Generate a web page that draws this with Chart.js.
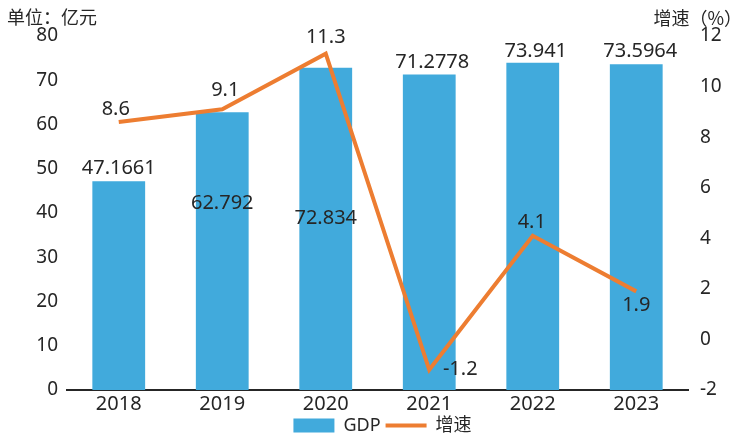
<!DOCTYPE html>
<html>
<head>
<meta charset="utf-8">
<script src="https://cdn.jsdelivr.net/npm/chart.js@4"></script>
<style>
	html, body { margin: 0; padding: 0; background: #fff; }
	#wrap { width: 745px; height: 434px; }
</style>
</head>
<body>
<div id="wrap"><canvas id="chart"></canvas></div>
<script>
const years = [ '2018', '2019', '2020', '2021', '2022', '2023' ];
const gdpValues = [ 47.1661, 62.792, 72.834, 71.2778, 73.941, 73.5964 ];
const gdpLabels = [ '47.1661', '62.792', '72.834', '71.2778', '73.941', '73.5964' ];
const growthValues = [ 8.6, 9.1, 11.3, -1.2, 4.1, 1.9 ];
const growthLabels = [ '8.6', '9.1', '11.3', '-1.2', '4.1', '1.9' ];

const FONT = '"Noto Sans", "Noto Sans CJK SC", sans-serif';
const CJK = '"Noto Sans CJK SC", sans-serif';
const TEXT = '#262626';

// value labels, pixel offsets from the mark
const valueLabels = {
	id : 'valueLabels',
	afterDatasetsDraw(chart, args, opts) {
		let ctx = chart.ctx;
		ctx.save();
		ctx.font = '20px ' + FONT;
		ctx.fillStyle = TEXT;
		ctx.textAlign = 'center';
		ctx.textBaseline = 'middle';
		chart.getDatasetMeta(0).data.forEach((bar, i) => {
			ctx.fillText(gdpLabels[i], bar.x + opts.barDx[i], bar.y + opts.barDy[i]);
		});
		chart.getDatasetMeta(1).data.forEach((pt, i) => {
			ctx.fillText(growthLabels[i], pt.x + opts.lineDx[i], pt.y + opts.lineDy[i]);
		});
		ctx.restore();
	}
};

const unitTitles = {
	id : 'unitTitles',
	afterDraw(chart) {
		let ctx = chart.ctx;
		ctx.save();
		ctx.font = '18px ' + CJK;
		ctx.fillStyle = TEXT;
		ctx.textBaseline = 'middle';
		ctx.textAlign = 'left';
		ctx.fillText('单位：亿元', 7, 17);
		ctx.textAlign = 'right';
		ctx.fillText('增速（%）', 742, 18);
		ctx.restore();
	}
};

let ctx = document.getElementById('chart').getContext('2d');
let gdpChart = new Chart(ctx, {
	type : 'bar',
	data : {
		labels : years,
		datasets : [ {
			type : 'bar',
			label : 'GDP',
			data : gdpValues,
			backgroundColor : '#41AADC',
			borderWidth : 0,
			barPercentage : 0.51,
			categoryPercentage : 1,
			yAxisID : 'y',
			order : 1
		}, {
			type : 'line',
			label : '增速',
			data : growthValues,
			borderColor : '#ED7D31',
			backgroundColor : '#ED7D31',
			borderWidth : 4,
			pointRadius : 0,
			tension : 0,
			yAxisID : 'y1',
			order : 0
		} ]
	},
	options : {
		responsive : true,
		maintainAspectRatio : false,
		animation : false,
		// left padding only nudges the legend to the right
		layout : { padding : { top : 36, left : 20, right : 0, bottom : 0 } },
		scales : {
			x : {
				grid : { display : false, drawTicks : false },
				border : { display : true, color : '#262626', width : 2 },
				ticks : { color : TEXT, font : { size : 20, family : FONT }, padding : 2 },
				afterFit : function(scale) { scale.height = 21.5; }
			},
			y : {
				position : 'left',
				min : 0,
				max : 80,
				grid : { display : false, drawTicks : false },
				border : { display : false },
				ticks : { stepSize : 10, color : TEXT, font : { size : 19, family : FONT }, padding : 9 },
				afterFit : function(scale) { scale.width = 47; }
			},
			y1 : {
				position : 'right',
				min : -2,
				max : 12,
				grid : { display : false, drawTicks : false },
				border : { display : false },
				ticks : { stepSize : 2, color : TEXT, font : { size : 19, family : FONT }, padding : 12 },
				afterFit : function(scale) { scale.width = 57; }
			}
		},
		plugins : {
			legend : {
				position : 'bottom',
				maxHeight : 22.5,
				labels : {
					usePointStyle : true,
					pointStyleWidth : 41,
					boxHeight : 14,
					padding : 5,
					color : TEXT,
					font : { size : 18, family : FONT },
					sort : (a, b) => a.datasetIndex - b.datasetIndex,
					generateLabels : function(chart) {
						let items = Chart.defaults.plugins.legend.labels.generateLabels(chart);
						items.forEach(item => {
							item.pointStyle = item.datasetIndex === 0 ? 'rect' : 'line';
						});
						return items;
					}
				}
			},
			tooltip : { enabled : false },
			valueLabels : {
				barDx : [ 0, 0, 0, 3, 3, 4 ],
				barDy : [ -13, 91, 151, -12, -12, -13 ],
				lineDx : [ -3, 3, 0, 31, -1, 0 ],
				lineDy : [ -13, -19, -16, 0, -13, 14 ]
			}
		}
	},
	plugins : [ valueLabels, unitTitles ]
});
</script>
</body>
</html>
